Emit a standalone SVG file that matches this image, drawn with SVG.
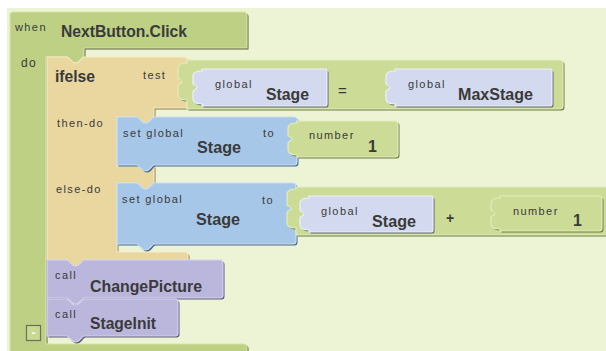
<svg xmlns="http://www.w3.org/2000/svg" xmlns:xlink="http://www.w3.org/1999/xlink" width="606" height="351" viewBox="0 0 606 351">
<style>
.sh{stroke:none}
.green{fill:#bdd084;stroke:#d7e4a8;stroke-width:1.2}
.sh-green{fill:#56633a}
.lgreen{fill:#ccdc96;stroke:#e3edbd;stroke-width:1.2}
.sh-lgreen{fill:#6c7a44}
.tan{fill:#e9d79f;stroke:#f7ebc6;stroke-width:1.2}
.sh-tan{fill:#8c7b4a}
.blue{fill:#a7c7e8;stroke:#c9def3;stroke-width:1.2}
.sh-blue{fill:#4b6a8c}
.lav{fill:#d3d9ee;stroke:#eef1fa;stroke-width:1.2}
.sh-lav{fill:#5d6375}
.purple{fill:#bab6dc;stroke:#d6d3eb;stroke-width:1.2}
.sh-purple{fill:#5d5a80}
text{font-family:"Liberation Sans",Arial,sans-serif;fill:#3a3a3a}
.sm{font-size:11px;letter-spacing:1.4px}
.bd{font-size:16px;font-weight:bold}
</style>
<defs>
<path id="p-when" d="M13,12 H244 Q247,12 247,15 V48 H84 V57 C81,58 80,63 75.5,63 C71,63 70,58 67,57 H46 V344 H244 Q247,344 247,347 V353 H10 V15 Q10,12 13,12 Z"/>
<path id="p-ifelse" d="M47,57 H67 C70,58 71,63 75.5,63 C80,63 81,58 84,57 H184 Q187,57 187,60 V108 H154 V117 C151,118 150,123 145.5,123 C141,123 140,118 137,117 H117 V166 H154 V183 C151,184 150,189 145.5,189 C141,189 140,184 137,183 H117 V252 H185 Q188,252 188,255 V260 H84 C81,261 80,266 75.5,266 C71,266 70,261 67,260 H47 Z"/>
<path id="p-then" d="M117,117 H137 C140,118 141,123 145.5,123 C150,123 151,118 154,117 H294 Q297,117 297,120 V162 Q297,165 294,165 H154 C151,166 150,171 145.5,171 C141,171 140,166 137,165 H117 Z"/>
<path id="p-else" d="M117,183 H137 C140,184 141,189 145.5,189 C150,189 151,184 154,183 H293 Q296,183 296,186 V241 Q296,244 293,244 H154 C151,245 150,250 145.5,250 C141,250 140,245 137,244 H117 Z"/>
<path id="p-eq" d="M187,60 H560 Q563,60 563,63 V106 Q563,109 560,109 H187 V100 C182,100 178,99 178,95 L178,85.5 C178,83.5 182,83.5 182,81.5 C182,79.5 178,79.5 178,77.5 L178,68 C178,64 182,63 187,63 Z"/>
<path id="p-lav1" d="M202,69 H325 Q327,69 327,71 V104 Q327,106 325,106 H202 V104 C197,104 193,103 193,99 L193,91.5 C193,89.5 197,89.5 197,87.5 C197,85.5 193,85.5 193,83.5 L193,76 C193,72 197,71 202,71 Z"/>
<path id="p-lav2" d="M395,69 H550 Q552,69 552,71 V104 Q552,106 550,106 H395 V104 C390,104 386,103 386,99 L386,91.5 C386,89.5 390,89.5 390,87.5 C390,85.5 386,85.5 386,83.5 L386,76 C386,72 390,71 395,71 Z"/>
<path id="p-num1" d="M297,121 H395 Q398,121 398,124 V154 Q398,157 395,157 H297 V155 C292,155 288,154 288,150 L288,143 C288,141 292,141 292,139 C292,137 288,137 288,135 L288,128 C288,124 292,123 297,123 Z"/>
<path id="p-plus" d="M296,187 H620 V235 H296 V228 C291,228 287,227 287,223 L287,212.5 C287,210.5 291,210.5 291,208.5 C291,206.5 287,206.5 287,204.5 L287,194 C287,190 291,189 296,189 Z"/>
<path id="p-lav3" d="M309,196 H431 Q433,196 433,198 V230 Q433,232 431,232 H309 V230 C304,230 300,229 300,225 L300,218 C300,216 304,216 304,214 C304,212 300,212 300,210 L300,203 C300,199 304,198 309,198 Z"/>
<path id="p-num2" d="M500,196 H599 Q602,196 602,199 V228 Q602,231 599,231 H500 V229 C495,229 491,228 491,224 L491,217.5 C491,215.5 495,215.5 495,213.5 C495,211.5 491,211.5 491,209.5 L491,203 C491,199 495,198 500,198 Z"/>
<path id="p-call1" d="M47,260 H67 C70,261 71,266 75.5,266 C80,266 81,261 84,260 H220 Q223,260 223,263 V295 Q223,298 220,298 H84 C81,299 80,304 75.5,304 C71,304 70,299 67,298 H47 Z"/>
<path id="p-call2" d="M47,299 H67 C70,300 71,305 75.5,305 C80,305 81,300 84,299 H175 Q178,299 178,302 V333 Q178,336 175,336 H84 C81,337 80,342 75.5,342 C71,342 70,337 67,336 H47 Z"/>
</defs>
<rect x="7" y="8" width="599" height="343" fill="#edf4d5"/>
<g id="connectors"/>
<g id="when-block">
<use href="#p-when" class="sh sh-green" transform="translate(1.5,1.5)"/>
<use href="#p-when" class="green"/>
<text x="15" y="31" class="sm">when</text>
<text x="61" y="37" class="bd" textLength="126" lengthAdjust="spacingAndGlyphs">NextButton.Click</text>
<text x="21" y="67" class="sm" style="font-size:12px">do</text>
</g>
<g id="ifelse-block">
<use href="#p-ifelse" class="sh sh-tan" transform="translate(1.5,1.5)"/>
<use href="#p-ifelse" class="tan"/>
<text x="55" y="82" class="bd" style="font-size:17px" textLength="40" lengthAdjust="spacingAndGlyphs">ifelse</text>
<text x="143" y="79" class="sm">test</text>
<text x="57" y="127" class="sm">then-do</text>
<text x="56" y="193" class="sm">else-do</text>
</g>
<g id="eq-block">
<use href="#p-eq" class="sh sh-lgreen" transform="translate(1.5,1.5)"/>
<use href="#p-eq" class="lgreen"/>
<text x="338" y="96" style="font-size:15px">=</text>
</g>
<g id="global-stage-1">
<use href="#p-lav1" class="sh sh-lav" transform="translate(1.5,1.5)"/>
<use href="#p-lav1" class="lav"/>
<text x="215" y="88" class="sm">global</text>
<text x="266" y="100" class="bd" textLength="43" lengthAdjust="spacingAndGlyphs">Stage</text>
</g>
<g id="global-maxstage">
<use href="#p-lav2" class="sh sh-lav" transform="translate(1.5,1.5)"/>
<use href="#p-lav2" class="lav"/>
<text x="408" y="88" class="sm">global</text>
<text x="458" y="100" class="bd" textLength="75" lengthAdjust="spacingAndGlyphs">MaxStage</text>
</g>
<g id="set-then">
<use href="#p-then" class="sh sh-blue" transform="translate(1.5,1.5)"/>
<use href="#p-then" class="blue"/>
<text x="123" y="137" class="sm">set global</text>
<text x="197" y="153" class="bd" textLength="44" lengthAdjust="spacingAndGlyphs">Stage</text>
<text x="263" y="137" class="sm">to</text>
</g>
<g id="number-1a">
<use href="#p-num1" class="sh sh-lgreen" transform="translate(1.5,1.5)"/>
<use href="#p-num1" class="lgreen"/>
<text x="309" y="139" class="sm">number</text>
<text x="368" y="152" class="bd">1</text>
</g>
<g id="set-else">
<use href="#p-else" class="sh sh-blue" transform="translate(1.5,1.5)"/>
<use href="#p-else" class="blue"/>
<text x="122" y="203" class="sm">set global</text>
<text x="196" y="225" class="bd" textLength="44" lengthAdjust="spacingAndGlyphs">Stage</text>
<text x="262" y="204" class="sm">to</text>
</g>
<g id="plus-block">
<use href="#p-plus" class="sh sh-lgreen" transform="translate(1.5,1.5)"/>
<use href="#p-plus" class="lgreen"/>
<text x="446" y="223" style="font-size:14px;font-weight:bold">+</text>
</g>
<g id="global-stage-2">
<use href="#p-lav3" class="sh sh-lav" transform="translate(1.5,1.5)"/>
<use href="#p-lav3" class="lav"/>
<text x="321" y="215" class="sm">global</text>
<text x="372" y="227" class="bd" textLength="44" lengthAdjust="spacingAndGlyphs">Stage</text>
</g>
<g id="number-1b">
<use href="#p-num2" class="sh sh-lgreen" transform="translate(1.5,1.5)"/>
<use href="#p-num2" class="lgreen"/>
<text x="513" y="215" class="sm">number</text>
<text x="573" y="226" class="bd">1</text>
</g>
<g id="call-changepicture">
<use href="#p-call1" class="sh sh-purple" transform="translate(1.5,1.5)"/>
<use href="#p-call1" class="purple"/>
<text x="55" y="279" class="sm">call</text>
<text x="90" y="292" class="bd" textLength="112" lengthAdjust="spacingAndGlyphs">ChangePicture</text>
</g>
<g id="call-stageinit">
<use href="#p-call2" class="sh sh-purple" transform="translate(1.5,1.5)"/>
<use href="#p-call2" class="purple"/>
<text x="55" y="318" class="sm">call</text>
<text x="90" y="329" class="bd" textLength="66" lengthAdjust="spacingAndGlyphs">StageInit</text>
</g>
<g id="collapse-toggle">
<rect x="26.5" y="325.5" width="14" height="15" fill="#c9da90" stroke="#6e705e" stroke-width="1.2"/>
<text x="33.5" y="337" text-anchor="middle" style="font-size:12px;font-weight:bold;fill:#ffffff">-</text>
</g>
</svg>
